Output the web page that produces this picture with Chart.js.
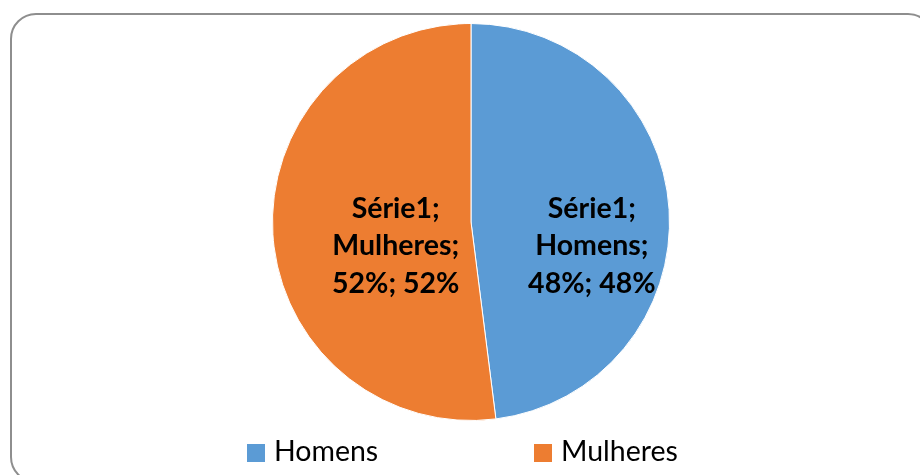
<!DOCTYPE html>
<html>
<head>
<meta charset="utf-8">
<script src="https://cdn.jsdelivr.net/npm/chart.js@4"></script>
<style>
  html, body { margin: 0; padding: 0; background: #fff; }
  #wrap { position: relative; width: 920px; height: 475px; overflow: hidden; }
  #frame {
    position: absolute; left: 10px; top: 13px; width: 924px; height: 470px;
    border: 2px solid #8e8e8e; border-radius: 26px; box-sizing: border-box;
  }
  #chart { position: absolute; left: 0; top: 0; }
  .leg { position: absolute; top: 434px; font: 28.5px Lato, sans-serif; color: #000; line-height: 32px; white-space: nowrap; }
  .leg i { display: inline-block; width: 18px; height: 18px; margin-right: 9px; vertical-align: -1px; }
</style>
</head>
<body>
<div id="wrap">
  <div id="frame"></div>
  <canvas id="chart" width="920" height="475"></canvas>
  <div id="legend"></div>
</div>
<script>
const seriesName = 'Série1';
const categories = ['Homens', 'Mulheres'];
const values = [48, 52];
const colors = ['#5b9bd5', '#ed7d31'];

// where each slice's label sits: fraction of radius along the slice's mid-angle
const labelRadius = [0.61, 0.38];
const labelDy = 23;

const total = values.reduce((a, b) => a + b, 0);

const labelPlugin = {
  id: 'sliceLabels',
  afterDatasetsDraw(chart) {
    const ctx = chart.ctx;
    const meta = chart.getDatasetMeta(0);
    ctx.save();
    ctx.font = 'bold 28.5px Lato, sans-serif';
    ctx.fillStyle = '#000';
    ctx.textAlign = 'center';
    ctx.textBaseline = 'alphabetic';
    meta.data.forEach((arc, i) => {
      const p = arc.getProps(['x', 'y', 'startAngle', 'endAngle', 'outerRadius']);
      const mid = (p.startAngle + p.endAngle) / 2;
      const cx = p.x + Math.cos(mid) * p.outerRadius * labelRadius[i];
      const cy = p.y + labelDy;
      const pct = Math.round(values[i] / total * 100) + '%';
      const lines = [seriesName + ';', categories[i] + ';', pct + '; ' + pct];
      const lh = 37.5;
      lines.forEach((t, k) => {
        ctx.fillText(t, cx, cy + (k - 1) * lh + 10);
      });
    });
    ctx.restore();
  }
};

new Chart(document.getElementById('chart'), {
  type: 'pie',
  data: {
    labels: categories,
    datasets: [{
      label: seriesName,
      data: values,
      backgroundColor: colors,
      borderColor: '#ffffff',
      borderWidth: 1
    }]
  },
  options: {
    responsive: false,
    animation: false,
    layout: { padding: { top: 23, bottom: 54, left: 22, right: 0 } },
    plugins: {
      legend: { display: false },
      tooltip: { enabled: false }
    }
  },
  plugins: [labelPlugin]
});

// legend
const legendX = [247, 534];
const legend = document.getElementById('legend');
categories.forEach((c, i) => {
  const d = document.createElement('div');
  d.className = 'leg';
  d.style.left = legendX[i] + 'px';
  d.innerHTML = '<i style="background:' + colors[i] + '"></i>' + c;
  legend.appendChild(d);
});
</script>
</body>
</html>
